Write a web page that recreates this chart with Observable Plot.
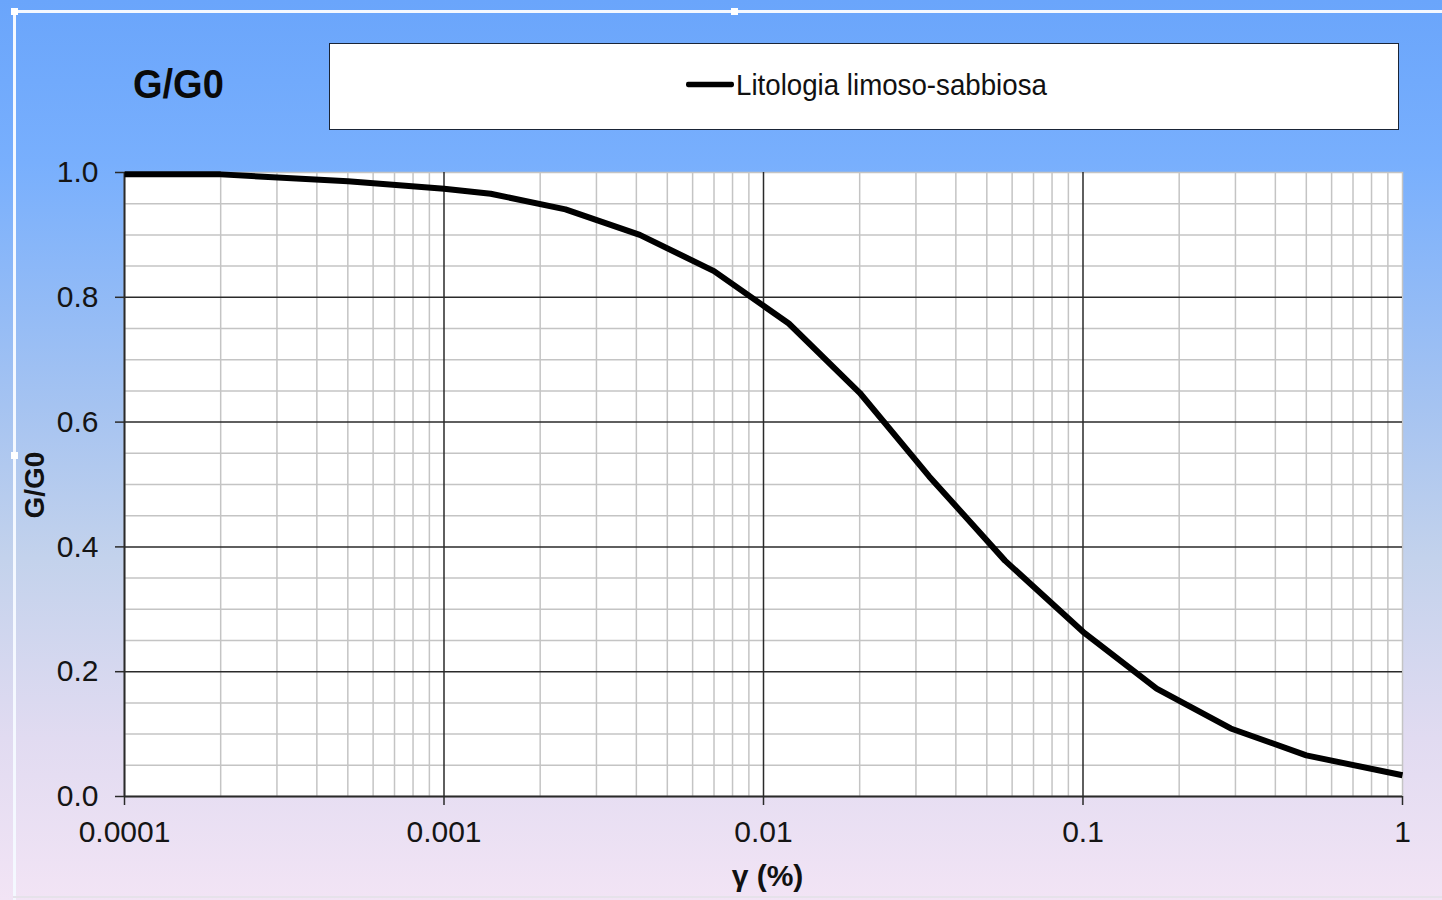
<!DOCTYPE html>
<html><head><meta charset="utf-8">
<script src="https://cdn.jsdelivr.net/npm/d3@7"></script>
<script src="https://cdn.jsdelivr.net/npm/@observablehq/plot@0.6"></script>
<style>
html,body{margin:0;padding:0;}
#page{position:relative;width:1442px;height:900px;overflow:hidden;
  background:linear-gradient(to bottom,#6aa5fb 0%,#78affd 18%,#a5c3f1 45%,#c3d2ec 62%,#e1dbf1 82%,#f2e4f5 100%);
  font-family:"Liberation Sans",Arial,sans-serif;}
#frameTop{position:absolute;left:13px;top:10px;width:1440px;height:3px;background:#f4f8ff;}
#frameLeft{position:absolute;left:13px;top:10px;width:3px;height:890px;background:#f4f8ff;}
#frameBottom{position:absolute;left:13px;top:896px;width:1440px;height:2px;background:#e6e2ea;}
.handle{position:absolute;width:7px;height:7px;background:#fff;}
#title{position:absolute;left:133px;top:61px;font-size:38px;font-weight:bold;color:#0a0a0a;line-height:46px;transform:scaleY(1.08);transform-origin:left center;}
#legend{position:absolute;left:329px;top:43px;width:1068px;height:85px;background:#fff;border:1.5px solid #1a2436;}
#legend .item{position:absolute;left:356px;top:24px;font-size:27.7px;color:#111;line-height:34px;white-space:nowrap;transform:scaleY(1.08);transform-origin:left center;}
#legend .swatch{display:inline-block;width:48px;height:5px;background:#000;vertical-align:middle;margin-right:2px;border-radius:2px;position:relative;top:-2px;}
#chart{position:absolute;left:0;top:140px;}
</style>
</head>
<body>
<div id="page">
  <div id="frameTop"></div><div id="frameLeft"></div><div id="frameBottom"></div>
  <div class="handle" style="left:11px;top:8px"></div>
  <div class="handle" style="left:731px;top:8px"></div>
  <div class="handle" style="left:11px;top:452px"></div>
  <div id="title">G/G0</div>
  <div id="legend"><div class="item"><span class="swatch"></span>Litologia limoso-sabbiosa</div></div>
  <div id="chart"></div>
</div>
<script>
// Data
const seriesName = "Litologia limoso-sabbiosa";
const gamma = [0.0001, 0.0002, 0.0005, 0.001, 0.0014, 0.0024, 0.0041, 0.007, 0.012, 0.02, 0.033, 0.057, 0.1, 0.17, 0.29, 0.5, 1];
const ratio = [0.997, 0.997, 0.986, 0.974, 0.966, 0.941, 0.900, 0.842, 0.758, 0.647, 0.513, 0.378, 0.264, 0.173, 0.109, 0.066, 0.034];

const xTicks = [0.0001, 0.001, 0.01, 0.1, 1];
const xLabels = ["0.0001", "0.001", "0.01", "0.1", "1"];
const yTicks = [0, 0.2, 0.4, 0.6, 0.8, 1.0];
const yLabels = ["0.0", "0.2", "0.4", "0.6", "0.8", "1.0"];
const minorMultipliers = [2, 3, 4, 5, 6, 7, 8, 9];
const yMinorStep = 0.05;

const data = gamma.map((g, i) => ({gamma: g, ratio: ratio[i]}));

// grid helpers
const xMinor = [];
xTicks.slice(0, -1).forEach(t => minorMultipliers.forEach(m => xMinor.push(+(t * m).toPrecision(3))));
const yMinor = d3.range(0, 1.0001, yMinorStep).map(v => +v.toFixed(2)).filter(v => !yTicks.some(t => Math.abs(t - v) < 1e-9));
const xMajorInner = xTicks.slice(1, -1);
const yMajorInner = yTicks.slice(1, -1);

const FONT = "'Liberation Sans', Arial, sans-serif";

const chart = Plot.plot({
  width: 1442,
  height: 760,
  marginTop: 32,
  marginBottom: 104,
  marginLeft: 124,
  marginRight: 40,
  style: {background: "transparent", fontFamily: FONT, fontSize: "30px", color: "#111"},
  x: {type: "log", domain: [0.0001, 1]},
  y: {domain: [0, 1]},
  marks: [
    Plot.frame({fill: "white", stroke: "#c4c4c4", strokeWidth: 1.5}),
    Plot.ruleX(xMinor, {stroke: "#c4c4c4", strokeWidth: 1.5}),
    Plot.ruleY(yMinor, {stroke: "#c4c4c4", strokeWidth: 1.5}),
    Plot.ruleX(xMajorInner, {stroke: "#2a2a2a", strokeWidth: 1.5}),
    Plot.ruleY(yMajorInner, {stroke: "#2a2a2a", strokeWidth: 1.5}),
    Plot.ruleX([xTicks[0]], {stroke: "#2a2a2a", strokeWidth: 2}),
    Plot.ruleY([yTicks[0]], {stroke: "#2a2a2a", strokeWidth: 2}),
    Plot.axisX({
      ticks: xTicks,
      tickFormat: d => xLabels[xTicks.indexOf(d)],
      tickSize: 9, tickPadding: 15, stroke: "#2a2a2a", strokeWidth: 1.5,
      fontSize: 30, fill: "#151515", label: null
    }),
    Plot.axisY({
      ticks: yTicks,
      tickFormat: d => yLabels[yTicks.indexOf(d)],
      tickSize: 9, tickPadding: 17, stroke: "#2a2a2a", strokeWidth: 1.5,
      fontSize: 30, fill: "#151515", label: null
    }),
    Plot.line(data, {x: "gamma", y: "ratio", stroke: "#000", strokeWidth: 6, strokeLinejoin: "round", strokeLinecap: "butt"}),
    Plot.text(["γ (%)"], {frameAnchor: "bottom", dx: 4, dy: 80, fontSize: 30, fontWeight: "bold", fill: "#111", lineAnchor: "middle"}),
    Plot.text(["G/G0"], {frameAnchor: "left", dx: -89, dy: 34, rotate: -90, fontSize: 28, fontWeight: "bold", fill: "#111"})
  ]
});
document.getElementById("chart").appendChild(chart);
</script>
</body></html>
